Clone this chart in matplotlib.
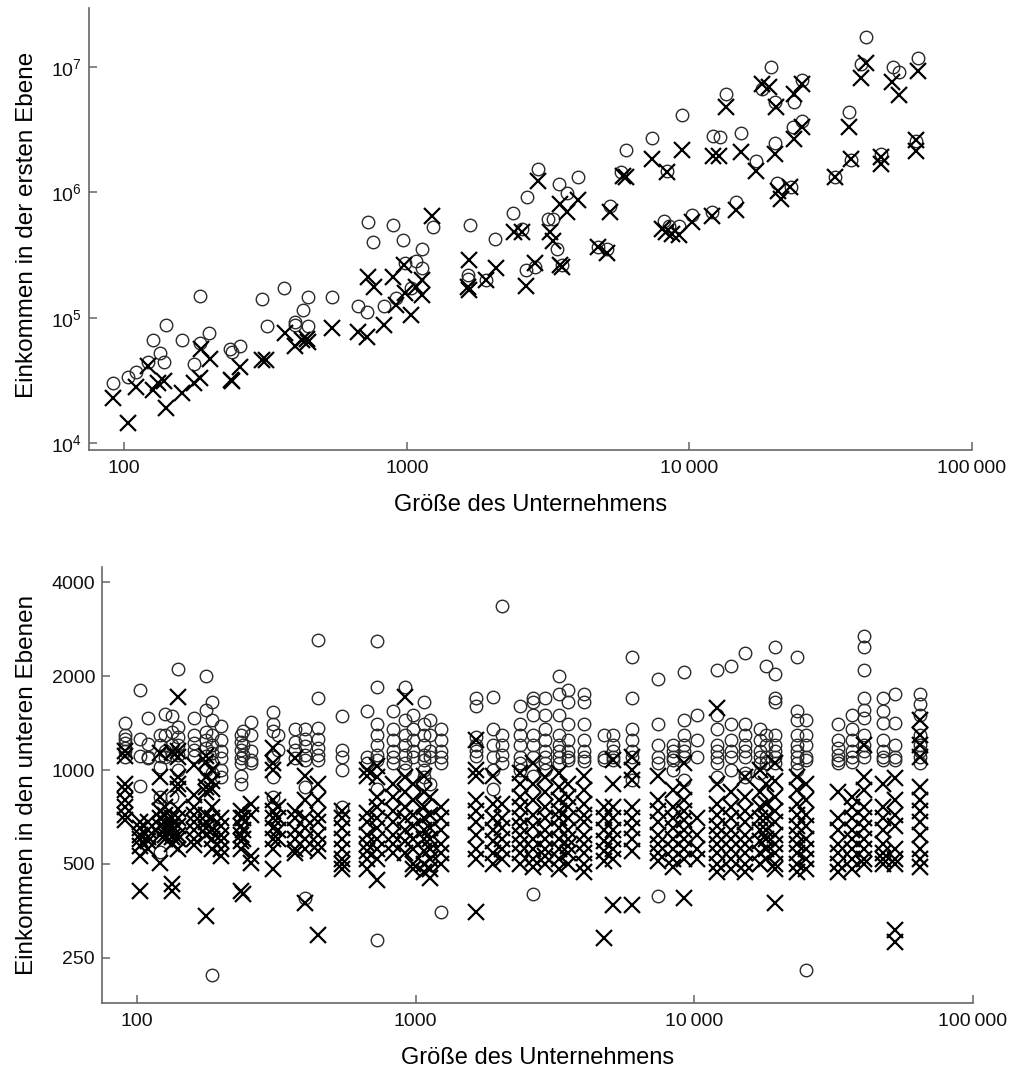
import matplotlib
matplotlib.use("Agg")
import matplotlib.pyplot as plt
from matplotlib.ticker import FixedLocator, FuncFormatter, NullLocator, LogFormatterSciNotation

plt.rcParams['font.family'] = ['Liberation Sans', 'DejaVu Sans']
plt.rcParams['mathtext.fontset'] = 'custom'
plt.rcParams['mathtext.rm'] = 'Liberation Sans'
plt.rcParams['mathtext.it'] = 'Liberation Sans:italic'
plt.rcParams['mathtext.bf'] = 'Liberation Sans:bold'

# ---------------- top panel data ----------------
top_circ_size = [91, 103, 110, 121, 126, 134, 141, 138, 160, 177,
                 186, 186, 200, 237, 241, 257, 307, 320, 368, 402,
                 402, 429, 447, 447, 543, 671, 722, 728, 759, 829,
                 892, 914, 968, 984, 1033, 1076, 1130, 1130, 1236, 1643,
                 1643, 1670, 1902, 2046, 2369, 2549, 2655, 2633, 2904, 2834,
                 3150, 3280, 3389, 3445, 3530, 3677, 4021, 4730, 5089, 5215,
                 5750, 5989, 7402, 8160, 8360, 8500, 9220, 9447, 10247, 12056,
                 12155, 12868, 13510, 14660, 15265, 17249, 18113, 19490, 20134, 20134,
                 20465, 22941, 23496, 23316, 25078, 25078, 32810, 36770, 37370, 40540,
                 42220, 47690, 52570, 55210, 63410, 64450]
top_circ_inc = [30200, 33700, 37000, 44500, 66700, 52500, 87900, 44500, 66700, 42900,
                150000, 63100, 75900, 56500, 53500, 59700, 142000, 86300, 171000, 92900,
                87900, 116000, 147000, 86300, 147000, 125000, 111700, 575000, 398000, 125000,
                545000, 144500, 413000, 275000, 171000, 281000, 356000, 247000, 525000, 221000,
                205000, 545000, 198000, 421000, 679000, 506000, 912000, 238000, 1530000, 256000,
                608000, 608000, 350000, 1160000, 265000, 982000, 1320000, 363000, 356000, 773000,
                1445000, 2170000, 2700000, 586000, 1470000, 535000, 535000, 4130000, 655000, 692000,
                2810000, 2750000, 6080000, 832000, 2960000, 1770000, 6670000, 10000000, 2470000, 5250000,
                1180000, 1096000, 5250000, 3310000, 7870000, 3700000, 1320000, 4370000, 1800000, 10570000,
                17380000, 2010000, 10000000, 9120000, 2560000, 11800000]

top_cross_size = [91, 103, 110, 121, 126, 132, 138, 141, 160, 177,
                  186, 187, 201, 239, 241, 257, 307, 318, 371, 402,
                  426, 443, 447, 543, 671, 722, 728, 765, 829, 892,
                  914, 976, 984, 1033, 1076, 1130, 1130, 1226, 1656, 1643,
                  1656, 1902, 2063, 2388, 2549, 2633, 2904, 2834, 3201, 3280,
                  3473, 3473, 3530, 3677, 4021, 4730, 5089, 5215, 5798, 5989,
                  7402, 8360, 8028, 8293, 8710, 9220, 9447, 10247, 12056, 12155,
                  12764, 13510, 14660, 15265, 17249, 18113, 19177, 20134, 20300, 20632,
                  21141, 22755, 23496, 23496, 25078, 25078, 32810, 36770, 37370, 40540,
                  42220, 47690, 47690, 52150, 55210, 63410, 63410, 64450]
top_cross_inc = [22900, 14500, 28100, 41300, 26500, 30200, 31300, 19100, 25100, 30200,
                 33100, 56500, 47000, 31900, 31300, 40600, 46100, 46100, 75900, 59700,
                 66700, 67900, 64300, 83200, 77300, 70500, 213000, 177000, 87900, 213000,
                 127000, 265000, 158500, 105700, 177000, 201000, 153000, 643000, 291000, 177000,
                 167000, 201000, 251000, 479000, 479000, 180000, 1220000, 275000, 479000, 406000,
                 802000, 265000, 256000, 692000, 863000, 363000, 331000, 692000, 1340000, 1320000,
                 1840000, 1445000, 506000, 479000, 461000, 453000, 2170000, 575000, 643000, 1940000,
                 1940000, 4790000, 718000, 2090000, 1470000, 7310000, 6920000, 2010000, 4790000, 1020000,
                 879000, 1096000, 6080000, 2650000, 7310000, 3310000, 1320000, 3310000, 1840000, 8170000,
                 10760000, 1905000, 1670000, 7590000, 5970000, 2610000, 2130000, 9290000]

# ---------------- bottom panel data (per company column) ----------------
low_size = [91, 103, 110, 121, 126, 134, 141, 160, 177, 186,
            200, 237, 241, 257, 307, 320, 368, 402, 447, 543,
            671, 728, 829, 914, 976, 1076, 1130, 1236, 1643, 1902,
            2046, 2369, 2633, 2904, 3280, 3530, 4021, 4730, 5089, 5989,
            7402, 8360, 9220, 10247, 12056, 13510, 15265, 17249, 18113, 19490,
            23316, 25078, 32810, 36770, 40540, 47690, 52570, 64450]
low_circ = [
    [1420, 1300, 1260, 1220, 1180, 1150, 1100],
    [1810, 1260, 1110, 890],
    [1470, 1210, 1100, 1090],
    [1300, 1200, 1110, 1020, 820, 545],
    [1510, 1300, 1150, 1100],
    [1490, 1320, 1200, 1120, 820],
    [2110, 1370, 1280, 1200, 1120, 1000],
    [1470, 1300, 1220, 1160, 1110],
    [2010, 1560, 1320, 1250, 1180, 1110, 1000],
    [1650, 1450, 1300, 1200, 1130, 1060, 980, 220],
    [1380, 1250, 1150, 1090, 1000, 950],
    [1300, 1230, 1160, 1090, 1050, 960, 900],
    [1330, 1200, 1120],
    [1430, 1300, 1150, 1080, 1050],
    [1540, 1400, 1330, 1100, 950, 820],
    [1300, 1160],
    [1350, 1230, 1160, 1090],
    [1350, 1260, 1190, 1120, 1080, 880, 390],
    [2620, 1700, 1360, 1260, 1180, 1120, 1080],
    [1490, 1160, 1100, 1000, 760],
    [1550, 1100, 1050],
    [2590, 1850, 1400, 1300, 1200, 1120, 1080, 870, 285],
    [1550, 1350, 1250, 1150, 1100, 1050],
    [1850, 1450, 1300, 1200, 1120, 1050, 1000],
    [1500, 1350, 1250, 1150, 1100],
    [1650, 1400, 1300, 1200, 1120, 1080, 1000, 950],
    [1450, 1300, 1150, 1100, 900],
    [1350, 1250, 1150, 1100, 1050, 350],
    [1700, 1600, 1280, 1200, 1150, 1110],
    [1710, 1350, 1200, 1100, 1000, 870],
    [3350, 1300, 1200, 1120, 1050],
    [1600, 1400, 1300, 1200, 1100, 1050, 1000],
    [1700, 1650, 1500, 1300, 1200, 1100, 960, 400],
    [1700, 1500, 1350, 1250, 1150, 1100, 1050, 1000],
    [2000, 1750, 1500, 1300, 1200, 1150, 1100, 1050],
    [1800, 1650, 1400, 1250, 1150, 1100, 1080],
    [1750, 1650, 1400, 1250, 1150, 1100, 1070],
    [1300, 1100, 1080],
    [1300, 1200, 1150, 1100, 1080],
    [2300, 1700, 1350, 1250, 1150, 1100, 930],
    [1960, 1400, 1200, 1100, 1050, 395],
    [1200, 1150, 1100, 1080, 1000],
    [2060, 1450, 1300, 1200, 1150, 1100, 930],
    [1500, 1250, 1100],
    [2100, 1500, 1350, 1200, 1150, 1100, 1050, 950],
    [2150, 1400, 1250, 1150, 1100, 1000],
    [2380, 1400, 1300, 1200, 1150, 1100, 980, 950],
    [1350, 1250, 1150, 1100, 1050, 980],
    [2150, 1300, 1200, 1100, 1050],
    [2490, 2030, 1700, 1650, 1300, 1200, 1150, 1100, 1050],
    [2300, 1550, 1450, 1300, 1200, 1150, 1100, 1050, 1000],
    [1450, 1300, 1200, 1100, 1080, 229],
    [1400, 1250, 1180, 1120, 1080, 1050],
    [1500, 1350, 1250, 1150, 1100, 1060],
    [2690, 2490, 2100, 1700, 1560, 1470, 1300, 1200, 1150, 1100],
    [1700, 1550, 1420, 1250, 1150, 1100, 1080],
    [1750, 1420, 1200, 1100, 1080],
    [1750, 1630, 1500, 1300, 1200, 1150, 1100, 1050],
]
low_cross = [
    [1150, 1110, 900, 860, 800, 760, 720, 690],
    [680, 650, 620, 600, 570, 530, 410],
    [680, 640, 610, 590, 560],
    [1130, 950, 820, 740, 700, 660, 620, 505],
    [760, 720, 680, 650, 620, 600],
    [1140, 700, 660, 640, 610, 580, 430, 410],
    [1710, 1150, 1100, 950, 900, 870, 750, 700, 660, 620, 600, 560],
    [1040, 830, 760, 720, 680, 640, 600, 575],
    [1110, 1060, 950, 880, 850, 720, 680, 650, 620, 340],
    [1000, 920, 870, 760, 700, 640, 600, 560],
    [700, 660, 620, 590, 560, 530],
    [740, 700, 660, 620, 590, 560, 410],
    [700, 640, 600, 400],
    [780, 720, 530, 505],
    [1180, 1050, 1000, 800, 740, 700, 650, 600, 560, 480],
    [760, 700, 640, 600],
    [1090, 740, 700, 640, 600, 560, 540],
    [960, 800, 700, 650, 600, 560, 375],
    [900, 800, 720, 680, 620, 580, 550, 295],
    [740, 700, 650, 600, 560, 520, 500, 480],
    [1000, 960, 730, 680, 620, 580, 550, 520, 480],
    [1030, 950, 820, 760, 700, 650, 600, 560, 520, 445],
    [900, 820, 740, 680, 620, 580, 540],
    [1710, 950, 850, 760, 700, 640, 590, 540],
    [900, 800, 720, 660, 600, 560, 500, 480],
    [960, 850, 760, 700, 640, 600, 550, 500, 470],
    [820, 720, 650, 600, 560, 520, 480, 450],
    [760, 700, 640, 580, 540, 500],
    [1250, 1000, 960, 800, 740, 680, 620, 560, 520, 350],
    [960, 780, 700, 640, 590, 540, 500],
    [780, 700, 650, 600, 560, 520],
    [980, 900, 820, 760, 700, 660, 620, 580, 540, 500],
    [1050, 900, 800, 720, 660, 600, 560, 520, 490],
    [950, 850, 760, 700, 640, 600, 560, 530, 500],
    [980, 880, 800, 740, 700, 650, 600, 560, 520, 480],
    [900, 820, 760, 700, 640, 600, 570, 540, 500],
    [960, 860, 780, 720, 680, 620, 580, 540, 500, 470],
    [760, 700, 640, 590, 550, 510, 290],
    [1080, 900, 760, 700, 640, 600, 560, 520, 370],
    [1100, 1000, 930, 760, 700, 650, 600, 550, 370],
    [960, 800, 740, 680, 620, 580, 540, 510],
    [860, 760, 700, 650, 600, 560, 520, 490],
    [1050, 880, 800, 740, 690, 640, 600, 560, 520, 390],
    [700, 620, 560, 520],
    [1580, 900, 780, 720, 660, 620, 580, 540, 500, 470],
    [850, 760, 700, 640, 600, 560, 520, 480],
    [950, 820, 740, 680, 620, 580, 540, 500, 470],
    [1000, 850, 760, 700, 640, 590, 540, 500],
    [900, 780, 700, 640, 600, 560, 520],
    [1050, 920, 820, 740, 680, 620, 580, 540, 500, 480, 375],
    [950, 860, 780, 720, 660, 620, 580, 540, 500, 470],
    [900, 800, 720, 660, 600, 560, 520, 480],
    [850, 700, 640, 580, 540, 500, 470],
    [820, 760, 700, 640, 600, 560, 520, 480],
    [1200, 950, 860, 760, 700, 650, 600, 560, 520, 500],
    [900, 760, 700, 640, 580, 540, 520, 500],
    [940, 800, 720, 660, 560, 520, 500, 307, 280],
    [1450, 1300, 1200, 1100, 880, 800, 740, 680, 620, 560, 520, 490],
]

x_ticks = [100, 1000, 10000, 100000]
low_y_ticks = [250, 500, 1000, 2000, 4000]
x_label = "Größe des Unternehmens"
top_y_label = "Einkommen in der ersten Ebene"
low_y_label = "Einkommen in den unteren Ebenen"

# flatten bottom table
low_cx, low_cy, low_xx, low_xy = [], [], [], []
for s, cs, xs in zip(low_size, low_circ, low_cross):
    low_cx += [s] * len(cs)
    low_cy += cs
    low_xx += [s] * len(xs)
    low_xy += xs

fig = plt.figure(figsize=(10.11, 10.74), dpi=100)
ax1 = fig.add_axes([0.0880, 0.5810, 0.8734, 0.4115])
ax2 = fig.add_axes([0.1009, 0.0661, 0.8615, 0.4060])

spine_col = '#666666'
circ_kw = dict(linestyle='none', marker='o', markersize=9.0, markerfacecolor='none',
               markeredgecolor='#2a2a2a', markeredgewidth=1.0)
cross_kw = dict(linestyle='none', marker='x', markersize=11, color='black',
                markeredgewidth=1.6)


def thousands(v, pos=None):
    v = int(round(v))
    if v < 10000:
        return str(v)
    return f"{v:,}".replace(",", "\u2009")


for ax in (ax1, ax2):
    ax.set_xscale('log')
    ax.set_xlim(75, 100000)
    for side in ('top', 'right'):
        ax.spines[side].set_visible(False)
    for side in ('left', 'bottom'):
        ax.spines[side].set_color(spine_col)
        ax.spines[side].set_linewidth(1.2)
    ax.xaxis.set_major_locator(FixedLocator(x_ticks))
    ax.xaxis.set_major_formatter(FuncFormatter(thousands))
    ax.xaxis.set_minor_locator(NullLocator())
    ax.yaxis.set_minor_locator(NullLocator())
    ax.tick_params(axis='both', which='major', direction='in', length=6, width=1.1,
                   color=spine_col, labelsize=14, labelcolor='#111111')
    ax.tick_params(axis='x', pad=7)
    ax.tick_params(axis='y', pad=5)

# top
ax1.plot(top_circ_size, top_circ_inc, **circ_kw)
ax1.plot(top_cross_size, top_cross_inc, **cross_kw)
ax1.set_yscale('log')
ax1.set_ylim(8800, 2.95e7)
ax1.yaxis.set_major_locator(FixedLocator([1e4, 1e5, 1e6, 1e7]))
ax1.yaxis.set_major_formatter(LogFormatterSciNotation())
ax1.yaxis.set_minor_locator(NullLocator())
ax1.set_xlabel(x_label, fontsize=17)
ax1.set_ylabel(top_y_label, fontsize=17.5)
ax1.xaxis.set_label_coords(0.5, -0.10)
ax1.yaxis.set_label_coords(-0.058, 0.51)

# bottom
ax2.plot(low_cx, low_cy, **circ_kw)
ax2.plot(low_xx, low_xy, **cross_kw)
ax2.set_yscale('log', base=2)
ax2.set_ylim(179, 4480)
ax2.yaxis.set_major_locator(FixedLocator(low_y_ticks))
ax2.yaxis.set_major_formatter(FuncFormatter(lambda v, p: f"{int(round(v))}"))
ax2.yaxis.set_minor_locator(NullLocator())
ax2.set_xlabel(x_label, fontsize=17)
ax2.set_ylabel(low_y_label, fontsize=17.5)
ax2.xaxis.set_label_coords(0.5, -0.10)
ax2.yaxis.set_label_coords(-0.0735, 0.5)

for ax in (ax1, ax2):
    for lab in ax.get_xticklabels() + ax.get_yticklabels():
        lab.set_fontsize(14)

fig.savefig('out.png', dpi=100)
